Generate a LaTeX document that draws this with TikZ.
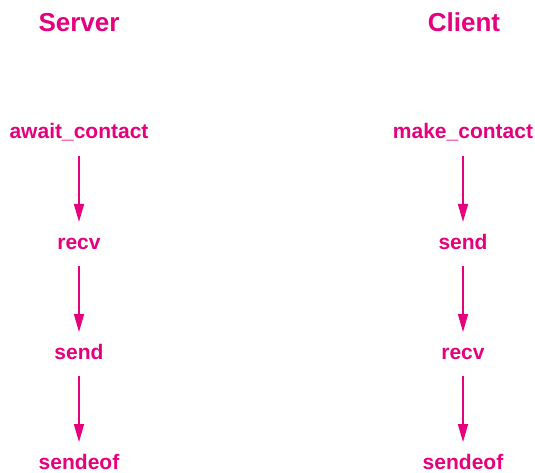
\documentclass[tikz,border=0pt]{standalone}
\usepackage{fontspec}
\setmainfont{Liberation Sans}
\usepackage{xcolor}
\usepackage{tikz}
\usetikzlibrary{arrows.meta,positioning}
\definecolor{magentaink}{HTML}{E5007D}
\tikzset{
  >={Triangle[length=18pt,width=10pt]},
  callflow/.style={->,line width=1.6pt,draw=magentaink},
  side/.style={text=magentaink,font=\fontsize{26}{30}\selectfont\bfseries,inner sep=0pt,anchor=base},
  call/.style={text=magentaink,font=\fontsize{21}{25}\selectfont\bfseries,
               text height=15pt,text depth=5pt,inner xsep=0pt,inner ysep=12pt}
}
\begin{document}
\begin{tikzpicture}[x=1pt,y=1pt,node distance=65.7pt]
  \useasboundingbox (0,0) rectangle (535,472);
  % column headings
  \node[side] (server) at (79,440) {Server};
  \node[side] (client) at (464,440) {Client};
  % server side
  \node[call,anchor=base] (await) at (79,333) {await\_contact};
  \node[call,below=of await] (srecv) {recv};
  \node[call,below=of srecv] (ssend) {send};
  \node[call,below=of ssend] (seof) {sendeof};
  % client side
  \node[call,anchor=base] (make) at (463,333) {make\_contact};
  \node[call,below=of make] (csend) {send};
  \node[call,below=of csend] (crecv) {recv};
  \node[call,below=of crecv] (ceof) {sendeof};
  \draw[callflow] (await)--(srecv); \draw[callflow] (srecv)--(ssend); \draw[callflow] (ssend)--(seof);
  \draw[callflow] (make)--(csend); \draw[callflow] (csend)--(crecv); \draw[callflow] (crecv)--(ceof);
\end{tikzpicture}
\end{document}
